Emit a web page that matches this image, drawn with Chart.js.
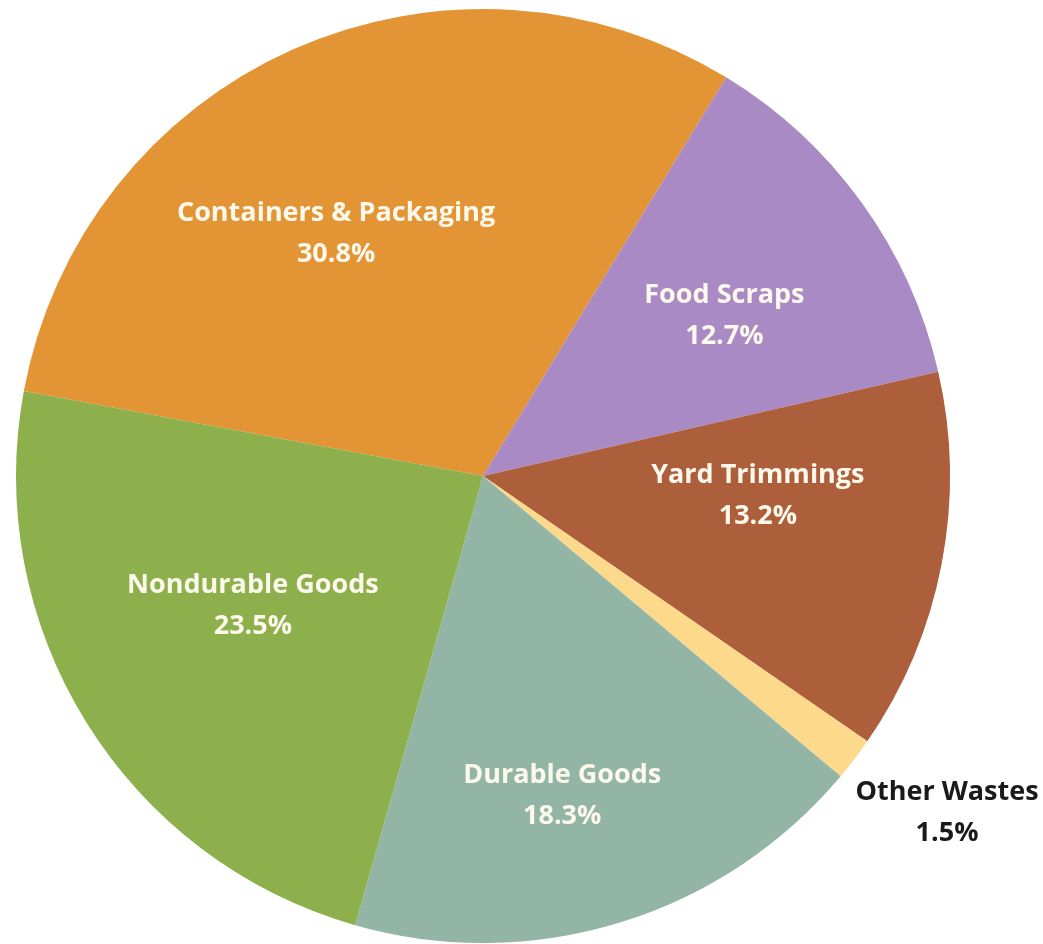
<!DOCTYPE html>
<html>
<head>
<meta charset="utf-8">
<script src="https://cdn.jsdelivr.net/npm/chart.js@4"></script>
<style>
  html, body { margin: 0; padding: 0; background: #fff; overflow: hidden; }
  #wrap { position: absolute; left: 0; top: 0; width: 1043px; height: 952px; }
</style>
</head>
<body>
<div id="wrap"><canvas id="chartPizza"></canvas></div>
<script>
  // dados (% do total)
  const categorias = ['Containers & Packaging', 'Food Scraps', 'Yard Trimmings', 'Other Wastes', 'Durable Goods', 'Nondurable Goods'];
  const valores = [30.8, 12.7, 13.2, 1.5, 18.3, 23.5];
  const rotulosPct = ['30.8%', '12.7%', '13.2%', '1.5%', '18.3%', '23.5%'];

  const cores = ['#E39536', '#A98AC4', '#AD5F3B', '#FDD98C', '#93B5A6', '#8DAF4C'];

  // posição dos rótulos: desvio angular (graus) e fração do raio
  const labelAngOff = [-7.1, 2.1, -6.9, -1.4, 3.1, 2.5];
  const labelRadFrac = [0.608, 0.621, 0.59, 1.227, 0.704, 0.565];
  const labelCor = ['#fdf8ec', '#fdf8ec', '#fdf8ec', '#1a1a1a', '#fdf8ec', '#fdf8ec'];

  const pieLabels = {
    id: 'pieLabels',
    afterDatasetsDraw(chart) {
      const ctx = chart.ctx;
      const meta = chart.getDatasetMeta(0);
      ctx.save();
      ctx.font = 'bold 27px "Open Sans", "DejaVu Sans", sans-serif';
      ctx.textAlign = 'center';
      ctx.textBaseline = 'middle';
      meta.data.forEach((arc, i) => {
        const p = arc.getProps(['x', 'y', 'startAngle', 'endAngle', 'outerRadius'], true);
        const mid = (p.startAngle + p.endAngle) / 2 + labelAngOff[i] * Math.PI / 180;
        const r = p.outerRadius * labelRadFrac[i];
        const x = p.x + Math.cos(mid) * r;
        const y = p.y + Math.sin(mid) * r;
        ctx.fillStyle = labelCor[i];
        ctx.fillText(categorias[i], x, y - 20);
        ctx.fillText(rotulosPct[i], x, y + 21);
      });
      ctx.restore();
    }
  };

  new Chart(document.getElementById('chartPizza'), {
    type: 'pie',
    data: {
      labels: categorias,
      datasets: [{ data: valores, backgroundColor: cores, borderWidth: 0 }]
    },
    options: {
      responsive: true,
      maintainAspectRatio: false,
      animation: false,
      rotation: -79.5,
      layout: { padding: { left: 16, right: 93, top: 9, bottom: 9 } },
      plugins: { legend: { display: false }, tooltip: { enabled: false } }
    },
    plugins: [pieLabels]
  });
</script>
</body>
</html>
